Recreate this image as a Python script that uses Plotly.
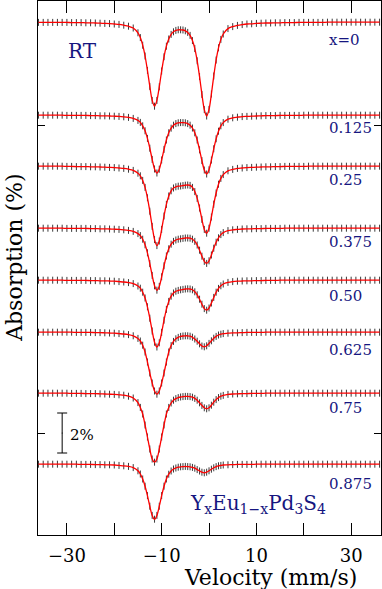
import plotly.graph_objects as go

# --- DATA (absorption in %) ---
velocity = [-36, -35, -34, -33, -32, -31, -30, -29, -28, -27, -26, -25, -24, -23, -22, -21,
            -20, -19, -18, -17, -16, -15,
            -14.5, -14, -13.5, -13, -12.5, -12, -11.5, -11, -10.5, -10, -9.5, -9, -8.5, -8,
            -7.5, -7, -6.5, -6, -5.5, -5, -4.5, -4, -3.5, -3, -2.5, -2, -1.5, -1, -0.5, 0,
            0.5, 1, 1.5, 2, 2.5,
            3, 4, 5, 6, 7, 8, 9, 10, 11, 12, 13, 14, 15, 16, 17, 18, 19, 20, 21, 22, 23, 24,
            25, 26, 27, 28, 29, 30, 31, 32, 33, 34, 35, 36]

abs_x000 = [.02, .02, .02, .02, .02, .02, .02, .03, .03, .03, .04, .04, .05, .06, .07, .08,
            .10, .12, .16, .21, .30, .54,
            .78, 1.16, 1.70, 2.42, 3.22, 3.92, 4.21, 3.92, 3.24, 2.45, 1.74, 1.21, .85, .62,
            .49, .42, .39, .39, .40, .44, .52, .67, .93, 1.33, 1.94, 2.73, 3.62, 4.38, 4.70, 4.37,
            3.60, 2.70, 1.90, 1.29, .87,
            .60, .33, .23, .17, .13, .10, .09, .07, .06, .05, .05, .04, .04, .03, .03, .03, .02,
            .02, .02, .02, .02, .02, .01, .01, .01, .01, .01, .01, .01, .01, .01, .01, .01, .01]

abs_x125 = [.01, .01, .01, .01, .01, .01, .02, .02, .02, .02, .02, .03, .03, .04, .04, .05,
            .06, .07, .09, .12, .17, .27,
            .37, .54, .79, 1.17, 1.66, 2.22, 2.70, 2.90, 2.71, 2.25, 1.72, 1.25, .89, .66,
            .51, .43, .39, .38, .38, .39, .43, .51, .65, .89, 1.25, 1.74, 2.28, 2.75, 2.95, 2.74,
            2.25, 1.69, 1.19, .81, .54,
            .38, .21, .14, .11, .08, .07, .06, .05, .04, .03, .03, .03, .02, .02, .02, .02, .02,
            .01, .01, .01, .01, .01, .01, .01, .01, .01, .01, .01, .01, .01, .01, .01, .01, .01]

abs_x250 = [.01, .01, .01, .01, .01, .01, .02, .02, .03, .03, .03, .04, .04, .05, .06, .07,
            .08, .10, .12, .16, .22, .36,
            .49, .72, 1.07, 1.59, 2.26, 3.02, 3.68, 3.98, 3.75, 3.17, 2.50, 1.92, 1.50, 1.24,
            1.10, 1.04, 1.01, 1.00, .98, .96, .95, .97, 1.07, 1.28, 1.62, 2.10, 2.67, 3.17, 3.36, 3.11,
            2.55, 1.91, 1.35, .91, .62,
            .43, .24, .17, .12, .10, .08, .07, .06, .05, .04, .04, .03, .03, .02, .02, .02, .02,
            .02, .01, .01, .01, .01, .01, .01, .01, .01, .01, .01, .01, .01, .01, .01, .01, .01]

abs_x375 = [.01, .01, .01, .01, .01, .01, .02, .02, .02, .02, .02, .03, .03, .04, .04, .05,
            .06, .07, .09, .12, .17, .28,
            .38, .56, .84, 1.24, 1.78, 2.37, 2.89, 3.11, 2.92, 2.44, 1.89, 1.40, 1.04, .81,
            .67, .60, .56, .54, .52, .50, .50, .51, .56, .67, .85, 1.11, 1.41, 1.67, 1.77, 1.64,
            1.35, 1.01, .71, .49, .33,
            .23, .13, .09, .07, .05, .04, .04, .03, .03, .02, .02, .02, .02, .01, .01, .01, .01,
            .01, .01, .01, .01, .01, .01, .01, .01, .01, .01, .01, .01, .01, .01, .01, .01, .01]

abs_x500 = [.01, .01, .01, .01, .01, .01, .02, .02, .02, .02, .02, .03, .03, .04, .04, .05,
            .06, .08, .10, .13, .18, .30,
            .41, .61, .90, 1.34, 1.91, 2.55, 3.11, 3.35, 3.14, 2.62, 2.01, 1.47, 1.07, .81,
            .65, .56, .52, .49, .47, .45, .44, .45, .49, .59, .74, .96, 1.21, 1.43, 1.51, 1.40,
            1.15, .87, .61, .42, .29,
            .20, .12, .08, .06, .05, .04, .04, .03, .03, .02, .02, .02, .01, .01, .01, .01, .01,
            .01, .01, .01, .01, .01, .01, .01, .01, .01, .01, .01, .01, .01, .01, .01, .01, .01]

abs_x625 = [.01, .01, .01, .01, .01, .01, .01, .01, .02, .02, .02, .02, .03, .03, .04, .05,
            .06, .08, .10, .13, .19, .32,
            .45, .66, 1.00, 1.50, 2.05, 2.55, 2.95, 3.11, 2.95, 2.55, 2.05, 1.50, 1.00, .68,
            .47, .34, .27, .22, .20, .19, .19, .21, .26, .35, .46, .59, .70, .74, .69, .57,
            .44, .31, .22, .15, .11,
            .08, .06, .04, .04, .03, .02, .02, .02, .02, .01, .01, .01, .01, .01, .01, .01, .01,
            .01, .01, .01, .01, .01, .01, .01, .01, .01, .01, .01, .01, .01, .01, .01, .01, .01]

abs_x750 = [.01, .01, .01, .01, .01, .01, .01, .02, .02, .02, .03, .03, .03, .04, .05, .06,
            .07, .09, .11, .16, .25, .48,
            .72, 1.05, 1.60, 2.20, 2.80, 3.30, 3.46, 3.30, 2.80, 2.20, 1.60, 1.05, .72, .50,
            .36, .28, .23, .20, .18, .17, .17, .18, .21, .27, .36, .49, .62, .74, .79, .74,
            .61, .46, .33, .23, .16,
            .12, .07, .05, .04, .03, .03, .02, .02, .02, .01, .01, .01, .01, .01, .01, .01, .01,
            .01, .01, .01, .01, .01, .01, .01, .01, .01, .01, .01, .01, .01, .01, .01, .01, .01]

abs_x875 = [.01, .01, .01, .01, .01, .01, .01, .01, .01, .02, .02, .02, .03, .03, .04, .04,
            .05, .07, .09, .12, .18, .34,
            .50, .75, 1.11, 1.58, 2.11, 2.57, 2.76, 2.57, 2.11, 1.58, 1.11, .75, .51, .35,
            .25, .20, .16, .14, .13, .12, .13, .14, .17, .21, .28, .35, .41, .44, .41, .34,
            .26, .19, .13, .09, .07,
            .05, .04, .03, .02, .02, .02, .02, .01, .01, .01, .01, .01, .01, .01, .01, .01, .01,
            .01, .01, .01, .01, .01, .01, .01, .01, .01, .01, .01, .01, .01, .01, .01, .01, .01]

spectra = [abs_x000, abs_x125, abs_x250, abs_x375, abs_x500, abs_x625, abs_x750, abs_x875]
compositions = ["x=0", "0.125", "0.25", "0.375", "0.50", "0.625", "0.75", "0.875"]

# vertical stacking of the spectra (baseline of each, in %)
baselines = [0, -4.65, -7.2, -10.3, -12.9, -15.5, -18.55, -22.1]
label_y = [-0.9, -5.3, -7.9, -11.0, -13.7, -16.4, -19.3, -23.1]
scale_bar_pct = 2

SERIF = "DejaVu Serif, serif"
NAVY = "#161680"

fig = go.Figure()

for spec, base in zip(spectra, baselines):
    y = [base - v for v in spec]
    # measured points drawn as short vertical error ticks
    fig.add_trace(go.Scatter(
        x=velocity, y=y, mode="markers",
        marker=dict(symbol="line-ns-open", size=5, color="#3a3a3a",
                    line=dict(width=1, color="#3a3a3a")),
        hoverinfo="skip",
    ))
    # fitted curve
    fig.add_trace(go.Scatter(
        x=velocity, y=y, mode="lines",
        line=dict(color="#ff0000", width=1.3, shape="spline", smoothing=0.8),
    ))

# 2% scale bar
fig.add_trace(go.Scatter(
    x=[-31], y=[-20.55], mode="markers", marker=dict(size=1, color="black"),
    error_y=dict(type="data", array=[scale_bar_pct / 2], visible=True,
                 width=5, thickness=1, color="black"),
))

annotations = []
for name, ly in zip(compositions, label_y):
    annotations.append(dict(x=24.9, y=ly, xref="x", yref="y", text=name, showarrow=False,
                            xanchor="left", yanchor="middle",
                            font=dict(family=SERIF, size=15, color=NAVY)))

annotations += [
    dict(x=-26.8, y=-1.45, xref="x", yref="y", text="RT", showarrow=False,
         font=dict(family=SERIF, size=20, color=NAVY)),
    dict(x=-29.8, y=-20.65, xref="x", yref="y", text=f"{scale_bar_pct}%", showarrow=False,
         xanchor="left", font=dict(family=SERIF, size=15, color="black")),
    dict(x=-4.45, y=-24.1, xref="x", yref="y",
         text="Y<sub>x</sub>Eu<sub>1\u2212x</sub>Pd<sub>3</sub>S<sub>4</sub>",
         showarrow=False, xanchor="left", yanchor="middle",
         font=dict(family=SERIF, size=20, color=NAVY)),
    dict(x=0.679, y=-0.079, xref="paper", yref="paper", text="Velocity (mm/s)",
         showarrow=False, xanchor="center", yanchor="middle",
         font=dict(family=SERIF, size=22, color="black")),
    dict(x=-0.067, y=0.519, xref="paper", yref="paper", text="Absorption (%)",
         showarrow=False, textangle=-90, xanchor="center", yanchor="middle",
         font=dict(family=SERIF, size=22, color="black")),
]

fig.update_layout(
    width=382, height=589,
    margin=dict(l=38, r=1, t=1, b=54),
    plot_bgcolor="white", paper_bgcolor="white",
    showlegend=False,
    annotations=annotations,
)

fig.update_xaxes(
    range=[-36.1, 36.3],
    tickvals=[-30, -10, 10, 30],
    ticktext=["\u221230", "\u221210", "10", "30"],
    ticks="inside", ticklen=12, tickwidth=1, tickcolor="black",
    minor=dict(tickvals=[-20, 0, 20], ticks="inside", ticklen=12, tickwidth=1,
               tickcolor="black", showgrid=False),
    showline=True, linecolor="black", linewidth=1, mirror="ticks",
    showgrid=False, zeroline=False, ticklabelstandoff=4,
    tickfont=dict(family=SERIF, size=18, color="black"),
)
fig.update_yaxes(
    range=[-25.65, 1.05],
    tickvals=[-5.15, -20.55],
    ticks="inside", ticklen=7, tickwidth=1, tickcolor="black",
    showticklabels=False,
    showline=True, linecolor="black", linewidth=1, mirror="ticks",
    showgrid=False, zeroline=False,
)

# the page body has a default 8px margin; drop it so the figure sits at the window corner
fig.write_html("out.html", config={"displayModeBar": False},
               post_script="document.body.style.margin='0px';")
